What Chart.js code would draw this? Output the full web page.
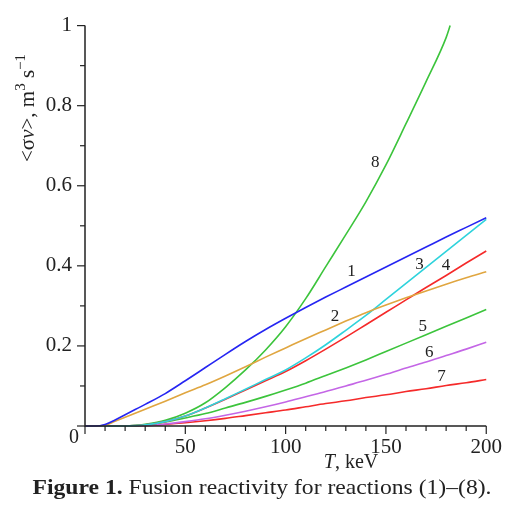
<!DOCTYPE html>
<html>
<head>
<meta charset="utf-8">
<script src="https://cdn.jsdelivr.net/npm/chart.js@4"></script>
<style>
  html, body { margin:0; padding:0; background:#fff; }
  #c { display:block; }
</style>
</head>
<body>
<canvas id="c" width="511" height="520"></canvas>
<script>
// temperature grid, keV
const T  = [0,5,10,15,20,25,30,40,50,60,70,80,90,100,110,120,130,140,150,160,170,180,190,200];
const T8 = [0,5,10,15,20,25,30,40,50,60,70,80,90,100,110,120,130,140,150,160,170,180,182];

// <sigma v> for reactions (1)..(8)
const r1 = [0,0,0.004,0.015,0.028,0.041,0.054,0.081,0.113,0.146,0.179,0.211,0.241,0.269,0.296,0.322,0.347,0.372,0.397,0.422,0.447,0.472,0.496,0.520];
const r2 = [0,0,0.002,0.012,0.022,0.032,0.042,0.062,0.083,0.103,0.125,0.148,0.172,0.195,0.218,0.240,0.262,0.283,0.302,0.320,0.337,0.354,0.370,0.385];
const r3 = [0,0,0,0,0,0.001,0.003,0.011,0.025,0.045,0.068,0.092,0.116,0.140,0.170,0.203,0.239,0.276,0.316,0.356,0.396,0.436,0.476,0.516];
const r4 = [0,0,0,0,0,0.001,0.003,0.011,0.025,0.045,0.067,0.090,0.113,0.136,0.163,0.192,0.222,0.253,0.284,0.315,0.346,0.376,0.407,0.437];
const r5 = [0,0,0,0,0,0.001,0.003,0.010,0.020,0.031,0.045,0.059,0.074,0.090,0.107,0.126,0.145,0.165,0.186,0.207,0.228,0.249,0.270,0.291];
const r6 = [0,0,0,0,0,0,0.001,0.005,0.011,0.018,0.027,0.037,0.048,0.060,0.073,0.086,0.100,0.114,0.129,0.145,0.160,0.176,0.192,0.209];
const r7 = [0,0,0,0,0,0,0.001,0.004,0.008,0.013,0.019,0.026,0.033,0.040,0.048,0.056,0.063,0.071,0.078,0.086,0.093,0.101,0.108,0.116];
const r8 = [0,0,0,0,0,0.001,0.004,0.014,0.032,0.058,0.096,0.140,0.190,0.248,0.318,0.398,0.478,0.560,0.652,0.755,0.860,0.970,1.000];

const colors = ['#2626f2','#e0a640','#2fd3dc','#f52a2a','#3cc43c','#c466e6','#f52a2a','#3cc43c'];

// curve number labels: [text, T, value]
const curveLabels = [
  ['1',132.8,0.387],['2',124.6,0.273],['3',166.7,0.403],['4',179.9,0.401],
  ['5',168.3,0.248],['6',171.6,0.183],['7',177.7,0.124],['8',144.7,0.658]
];

const SERIF = '"Liberation Serif", "Times New Roman", serif';

function pts(xs, ys){ return xs.map((x,i)=>({x, y:ys[i]})); }

const series = [r1,r2,r3,r4,r5,r6,r7];
const datasets = series.map((s,i)=>({ data: pts(T,s), borderColor: colors[i] }));
datasets.push({ data: pts(T8,r8), borderColor: colors[7] });
datasets.forEach(d => Object.assign(d, {
  borderWidth:1.6, pointRadius:0, fill:false, cubicInterpolationMode:'monotone', clip:4
}));

// draws text runs [str, font, dy] starting at x, returns width
function runs(ctx, parts, x, y, draw){
  let w = 0;
  parts.forEach(p => {
    ctx.font = p[1] + ' ' + SERIF;
    if (draw) ctx.fillText(p[0], x + w, y + (p[2]||0));
    w += ctx.measureText(p[0]).width;
  });
  return w;
}

const decor = {
  id:'decor',
  afterDatasetsDraw(chart){
    const {ctx, scales:{x,y}} = chart;
    const x0 = x.getPixelForValue(0), y0 = y.getPixelForValue(0);
    ctx.save();
    ctx.strokeStyle = '#222'; ctx.lineWidth = 1.5;
    // axes
    ctx.beginPath();
    ctx.moveTo(x0, y.getPixelForValue(1)); ctx.lineTo(x0, y0);
    ctx.lineTo(x.getPixelForValue(200), y0);
    ctx.stroke();
    ctx.lineWidth = 1.2;
    // x ticks (downwards)
    for (let v=0; v<=200; v+=10){
      const px = x.getPixelForValue(v), len = v%50===0 ? 8 : 5;
      ctx.beginPath(); ctx.moveTo(px, y0); ctx.lineTo(px, y0+len); ctx.stroke();
    }
    // y ticks (leftwards)
    for (let k=0; k<=10; k++){
      const py = y.getPixelForValue(k/10), len = k%2===0 ? 8 : 5;
      ctx.beginPath(); ctx.moveTo(x0, py); ctx.lineTo(x0-len, py); ctx.stroke();
    }
    // curve labels
    ctx.fillStyle = '#222';
    ctx.font = '17px ' + SERIF;
    ctx.textAlign = 'center'; ctx.textBaseline = 'middle';
    curveLabels.forEach(([t,xv,yv]) => ctx.fillText(t, x.getPixelForValue(xv), y.getPixelForValue(yv)));
    // corner zero
    ctx.font = '20px ' + SERIF;
    ctx.fillText('0', 74, 438);

    ctx.textAlign = 'left'; ctx.textBaseline = 'alphabetic';
    // x title
    const xt = [['T','italic 20px'], [', keV','20px']];
    const wx = runs(ctx, xt, 0, 0, false);
    runs(ctx, xt, 351 - wx/2, 468, true);

    // y title, rotated
    const yt = [['<σ','21px'], ['v','italic 21px'], ['>, m','21px'],
                ['3','15px',-9], [' s','21px'], ['−1','15px',-9]];
    const wy = runs(ctx, yt, 0, 0, false);
    ctx.translate(34, 108); ctx.rotate(-Math.PI/2);
    runs(ctx, yt, -wy/2, 0, true);
    ctx.setTransform(1,0,0,1,0,0);

    // caption, stretched a little to the original's width
    const cap = [['Figure 1.','bold 21px'], [' Fusion reactivity for reactions (1)–(8).','21px']];
    const wc = runs(ctx, cap, 0, 0, false);
    const sc = 459 / wc;
    ctx.translate(262 - 459/2, 494); ctx.scale(sc, 1);
    runs(ctx, cap, 0, 0, true);
    ctx.restore();
  }
};

new Chart(document.getElementById('c'), {
  type:'line',
  data:{ datasets },
  plugins:[decor],
  options:{
    responsive:false, animation:false,
    layout:{ padding:{ top:14, right:22, left:0, bottom:0 } },
    plugins:{ legend:{display:false}, tooltip:{enabled:false} },
    scales:{
      x:{
        type:'linear', min:0, max:200,
        border:{display:false},
        grid:{display:false, drawTicks:false},
        ticks:{ stepSize:50, padding:9, color:'#222', font:{family:SERIF, size:21},
          callback:v => v===0 ? '' : String(v) },
        afterFit:s => { s.height = 94; }
      },
      y:{
        min:0, max:1,
        border:{display:false},
        grid:{display:false, drawTicks:false},
        ticks:{ stepSize:0.2, padding:13, color:'#222', font:{family:SERIF, size:21},
          callback:v => Math.abs(v)<1e-9 ? '' : String(Math.round(v*10)/10) },
        afterFit:s => { s.width = 85; }
      }
    }
  }
});
</script>
</body>
</html>
